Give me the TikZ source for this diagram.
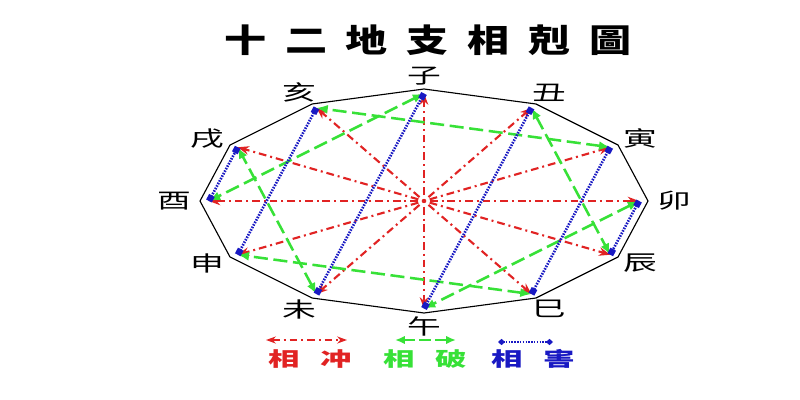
\documentclass[tikz,border=0pt]{standalone}
\usepackage{fontspec}
\newfontfamily\cjk{Noto Sans CJK TC}
\usepackage{graphicx}
\usetikzlibrary{arrows.meta}
\definecolor{chongred}{RGB}{225,35,35}
\definecolor{pogreen}{RGB}{55,225,55}
\definecolor{haiblue}{RGB}{25,25,195}
\newcommand{\widetext}[2]{\scalebox{#1}[1]{#2}}
\tikzset{branch/.style={font=\cjk\fontsize{15}{15}\selectfont, inner sep=0pt}}
\tikzset{legendtext/.style={font=\cjk\bfseries\fontsize{14}{14}\selectfont, inner sep=0pt}}
\tikzset{chong/.style={draw=chongred, line width=1.5pt, dash pattern=on 1.4pt off 2.8pt on 5.5pt off 2.8pt}}
\tikzset{po/.style={draw=pogreen, line width=1.8pt, dash pattern=on 10pt off 4pt}}
\tikzset{harm/.style={draw=haiblue, line width=1.9pt, dash pattern=on 1.1pt off 0.9pt}}

\begin{document}
\begin{tikzpicture}[x=0.025cm, y=-0.025cm]
\useasboundingbox (0,0) rectangle (800,400);
\fill[white] (0,0) rectangle (800,400);
% title
\node[font=\cjk\bfseries\fontsize{23}{23}\selectfont, inner sep=0pt] (title) at (428,40)
  {\widetext{1.3}{\addfontfeature{LetterSpace=45}十二地支相剋圖}};
% centre, vertices, end points and labels
\coordinate (o) at (424,201);
\foreach \name/\txt [count=\i from 0] in {zi/子, chou/丑, yin/寅, mao/卯, chen/辰, si/巳, wu/午, wei/未, shen/申, you/酉, xu/戌, hai/亥}
{
  \coordinate (\name-v) at ({424+224*sin(30*\i)}, {201-112*cos(30*\i)});
  \coordinate (\name) at ({424+0.96*224*sin(30*\i)}, {201-0.96*112*cos(30*\i)});
  \node[branch] (\name-lbl) at ({424+250*sin(30*\i)}, {201-125*cos(30*\i)}) {\widetext{1.6}{\txt}};
}
\draw[line width=0.8pt] (zi-v) -- (chou-v) -- (yin-v) -- (mao-v) -- (chen-v) -- (si-v) -- (wu-v)
  -- (wei-v) -- (shen-v) -- (you-v) -- (xu-v) -- (hai-v) -- cycle;
% xiang chong
\foreach \n in {zi, chou, yin, mao, chen, si, wu, wei, shen, you, xu, hai}
  \draw[chong, -{Stealth[length=8pt,width=6pt]}] (o) -- (\n);
% xiang po
\foreach \a/\b in {zi/you, chou/chen, yin/hai, mao/wu, si/shen, wei/xu}
  \draw[po, {Latex[length=8pt,width=6.5pt]}-{Latex[length=8pt,width=6.5pt]}] (\a) -- (\b);
% xiang hai
\foreach \a/\b in {zi/wei, chou/wu, yin/si, mao/chen, shen/hai, you/xu}
  \draw[harm, {Square[length=4.5pt,width=4.5pt]}-{Square[length=4.5pt,width=4.5pt]}] (\a) -- (\b);
% legend
\coordinate (chong-l) at (266,340);
\coordinate (chong-r) at (347,340);
\coordinate (po-l) at (395,340);
\coordinate (po-r) at (456,340);
\coordinate (hai-l) at (498,342);
\coordinate (hai-r) at (553,342);
\draw[chong, dash pattern=on 5.5pt off 2.8pt on 1.4pt off 2.8pt, {Stealth[length=7pt,width=5pt]}-{Stealth[length=7pt,width=5pt]}] (chong-l) -- (chong-r);
\draw[po, dash pattern=on 8pt off 3pt, {Latex[length=7pt,width=6pt]}-{Latex[length=7pt,width=6pt]}] (po-l) -- (po-r);
\draw[harm, {Diamond[length=5pt,width=4.5pt]}-{Diamond[length=5pt,width=4.5pt]}] (hai-l) -- (hai-r);
\node[legendtext, text=chongred] (chong-txt) at (310,359) {\widetext{1.6}{相\hspace{0.65em}冲}};
\node[legendtext, text=pogreen] (po-txt) at (425,359) {\widetext{1.6}{相\hspace{0.65em}破}};
\node[legendtext, text=haiblue] (hai-txt) at (533,359) {\widetext{1.6}{相\hspace{0.65em}害}};
\end{tikzpicture}
\end{document}
